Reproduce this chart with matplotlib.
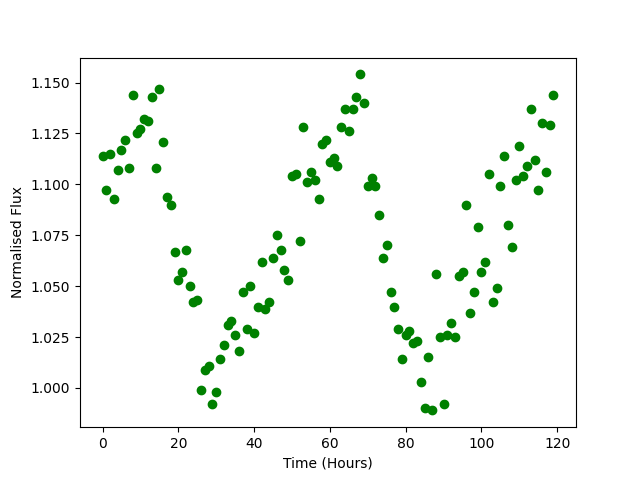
import matplotlib
matplotlib.use("Agg")
import matplotlib.pyplot as plt
import numpy as np

# hourly normalised flux readings
hours = np.arange(0, 120)
flux = [
    1.114, 1.097, 1.115, 1.093, 1.107, 1.117, 1.122, 1.108, 1.144, 1.125,
    1.127, 1.132, 1.131, 1.143, 1.108, 1.147, 1.121, 1.094, 1.090, 1.067,
    1.053, 1.057, 1.068, 1.050, 1.042, 1.043, 0.999, 1.009, 1.011, 0.992,
    0.998, 1.014, 1.021, 1.031, 1.033, 1.026, 1.018, 1.047, 1.029, 1.050,
    1.027, 1.040, 1.062, 1.039, 1.042, 1.064, 1.075, 1.068, 1.058, 1.053,
    1.104, 1.105, 1.072, 1.128, 1.101, 1.106, 1.102, 1.093, 1.120, 1.122,
    1.111, 1.113, 1.109, 1.128, 1.137, 1.126, 1.137, 1.143, 1.154, 1.140,
    1.099, 1.103, 1.099, 1.085, 1.064, 1.070, 1.047, 1.040, 1.029, 1.014,
    1.026, 1.028, 1.022, 1.023, 1.003, 0.990, 1.015, 0.989, 1.056, 1.025,
    0.992, 1.026, 1.032, 1.025, 1.055, 1.057, 1.090, 1.037, 1.047, 1.079,
    1.057, 1.062, 1.105, 1.042, 1.049, 1.099, 1.114, 1.080, 1.069, 1.102,
    1.119, 1.104, 1.109, 1.137, 1.112, 1.097, 1.130, 1.106, 1.129, 1.144,
]

plt.figure(figsize=(6.4, 4.8), dpi=100)
plt.scatter(hours, flux, color="green")
plt.xlabel("Time (Hours)")
plt.ylabel("Normalised Flux")
plt.savefig("out.png")
